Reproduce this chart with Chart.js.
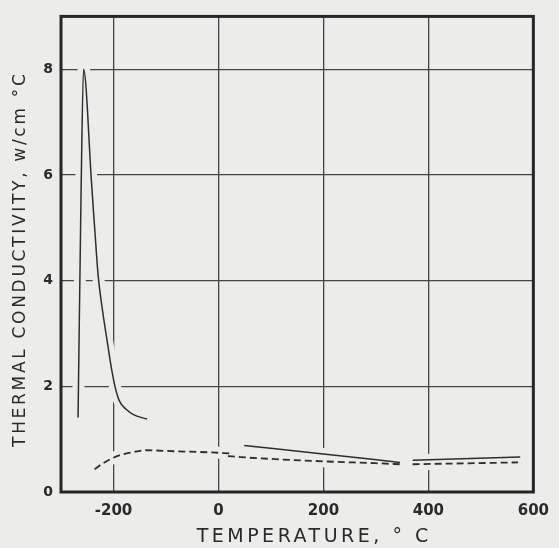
<!DOCTYPE html>
<html>
<head>
<meta charset="utf-8">
<script src="https://cdn.jsdelivr.net/npm/chart.js@4/dist/chart.umd.min.js"></script>
<style>
  html, body { margin: 0; padding: 0; background: #ececea; }
</style>
</head>
<body>
<canvas id="conductivityChart" width="559" height="548"></canvas>
<script>
// Temperature (deg C) and thermal conductivity (w/cm deg C)
const lowSolidTemp = [-267.5, -261.5, -257, -241.8, -231.3, -228, -220.5, -211, -203, -196.5, -189, -176.5, -161, -136];
const lowSolidK    = [1.41, 5.85, 8.0, 5.85, 4.35, 3.98, 3.41, 2.79, 2.29, 1.97, 1.73, 1.57, 1.46, 1.38];

const highSolidTemp = [49, 200, 346, null, 370, 575];
const highSolidK    = [0.88, 0.72, 0.56, null, 0.60, 0.66];

const lowDashTemp = [-236, -220.5, -202, -183.5, -165, -138.5, -82, -15, 22];
const lowDashK    = [0.43, 0.54, 0.64, 0.71, 0.75, 0.79, 0.77, 0.75, 0.73];

const highDashTemp = [18, 42, 200, 299, 346, null, 370, 571];
const highDashK    = [0.68, 0.66, 0.58, 0.545, 0.525, null, 0.525, 0.56];

const xTicks = [-200, 0, 200, 400, 600];
const yTicks = [0, 2, 4, 6, 8];

const bgColor = '#ececea';
const inkColor = '#2e2e2e';

function toPoints(temps, values) {
    return temps.map((t, i) => t === null ? { x: null, y: null } : { x: t, y: values[i] });
}

function curve(temps, values, dashed) {
    return {
        data: toPoints(temps, values),
        borderColor: inkColor,
        borderWidth: dashed ? 1.8 : 1.5,
        borderDash: dashed ? [7, 4] : [],
        pointRadius: 0,
        cubicInterpolationMode: 'monotone',
        spanGaps: false,
        order: 1
    };
}

// wide background-coloured copy under each curve, so grid lines break where curves cross
function halo(temps, values) {
    return {
        data: toPoints(temps, values),
        borderColor: bgColor,
        borderWidth: 12,
        pointRadius: 0,
        cubicInterpolationMode: 'monotone',
        spanGaps: false,
        order: 2
    };
}

const frame = {
    id: 'frame',
    afterDatasetsDraw(chart) {
        const { ctx, chartArea: a } = chart;
        ctx.save();
        ctx.strokeStyle = '#262626';
        ctx.lineWidth = 3;
        ctx.strokeRect(a.left, a.top, a.right - a.left, a.bottom - a.top);
        ctx.restore();
    }
};

// spread out the axis title letters like the original lettering
const spacedTitles = {
    id: 'spacedTitles',
    beforeDraw(chart) {
        ['x', 'y'].forEach(id => {
            const scale = chart.scales[id];
            if (scale._spaced) return;
            const orig = scale.drawTitle;
            scale.drawTitle = function () {
                this.ctx.save();
                if (id === 'x') {
                    this.ctx.letterSpacing = '3.5px';
                    this.ctx.translate(17, 0);
                } else {
                    this.ctx.letterSpacing = '2.7px';
                    this.ctx.translate(0, 5);
                }
                orig.call(this);
                this.ctx.restore();
            };
            scale._spaced = true;
        });
    }
};

const ctx = document.getElementById('conductivityChart').getContext('2d');
new Chart(ctx, {
    type: 'line',
    data: {
        datasets: [
            halo(lowSolidTemp, lowSolidK),
            halo(highSolidTemp, highSolidK),
            halo(lowDashTemp, lowDashK),
            halo(highDashTemp, highDashK),
            curve(lowSolidTemp, lowSolidK, false),
            curve(highSolidTemp, highSolidK, false),
            curve(lowDashTemp, lowDashK, true),
            curve(highDashTemp, highDashK, true)
        ]
    },
    options: {
        responsive: false,
        animation: false,
        layout: { padding: { top: 12, right: 22, left: 0, bottom: 0 } },
        plugins: { legend: { display: false }, tooltip: { enabled: false } },
        scales: {
            x: {
                type: 'linear',
                min: -300,
                max: 600,
                afterBuildTicks: scale => { scale.ticks = xTicks.map(v => ({ value: v })); },
                afterFit: scale => { scale.height = 56; },
                border: { display: false },
                grid: { color: '#454545', lineWidth: 1.3, drawTicks: false },
                ticks: {
                    padding: 10,
                    color: '#2a2a2a',
                    font: { family: 'DejaVu Sans', size: 15, weight: 'bold' }
                },
                title: {
                    display: true,
                    text: 'TEMPERATURE, ° C',
                    color: '#2a2a2a',
                    padding: 0,
                    font: { family: 'DejaVu Sans', size: 19 }
                }
            },
            y: {
                type: 'linear',
                min: 0,
                max: 9,
                afterBuildTicks: scale => { scale.ticks = yTicks.map(v => ({ value: v })); },
                afterFit: scale => { scale.width = 61; },
                border: { display: false },
                grid: { color: '#454545', lineWidth: 1.3, drawTicks: false },
                ticks: {
                    padding: 8,
                    color: '#2a2a2a',
                    font: { family: 'DejaVu Sans', size: 14, weight: 'bold' }
                },
                title: {
                    display: true,
                    text: 'THERMAL CONDUCTIVITY, w/cm °C',
                    color: '#2a2a2a',
                    padding: { top: 10, bottom: 0 },
                    font: { family: 'DejaVu Sans', size: 17 }
                }
            }
        }
    },
    plugins: [frame, spacedTitles]
});
</script>
</body>
</html>
